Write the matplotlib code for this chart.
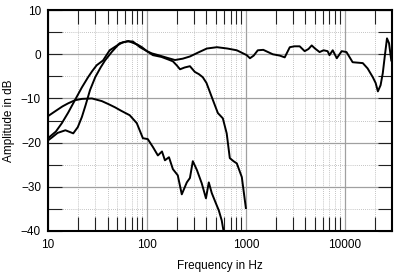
import numpy as np
import matplotlib
matplotlib.use("Agg")
import matplotlib.pyplot as plt
from matplotlib.ticker import FixedLocator, NullFormatter

plt.rcParams['font.family'] = ['Liberation Sans', 'DejaVu Sans']

# full system response
full_f = [10, 12, 13.8, 16, 18.7, 22, 25.4, 28, 31, 36, 42, 50, 57, 65, 70, 80, 89,
          100, 112, 130, 160, 192, 230, 272, 330, 403, 510, 650, 810, 1020, 1100,
          1200, 1320, 1500, 1870, 2200, 2470, 2780, 3100, 3500, 3930, 4300, 4630,
          5000, 5560, 6100, 6700, 7000, 7550, 8300, 9300, 10400, 12000, 13500,
          15200, 17000, 19200, 20500, 21600, 23000, 24200, 25500, 26700, 28000, 29500]
full_db = [-19, -17.5, -15.6, -13.2, -10.4, -7.5, -5.2, -3.8, -2.5, -1.4, 0.9, 2.0,
           2.7, 3.0, 2.7, 2.2, 1.6, 0.7, 0.2, -0.2, -0.8, -1.3, -1.0, -0.5, 0.4, 1.3,
           1.6, 1.3, 0.9, -0.2, -0.9, -0.3, 0.9, 1.0, 0.0, -0.3, -0.7, 1.6, 1.8, 1.8,
           0.7, 1.2, 2.0, 1.3, 0.5, 0.9, 0.7, -0.2, 0.9, -0.9, 0.7, 0.5, -1.8, -1.9,
           -2.0, -3.2, -5.2, -6.5, -8.4, -7.0, -4.3, 0.0, 3.6, 2.5, -1.4]

# woofer response
woof_f = [10, 11, 12.5, 15, 18, 20, 22, 24, 26.6, 30, 34, 37.7, 44, 53, 63, 72, 85,
          100, 115, 140, 165, 183, 200, 216, 240, 272, 305, 335, 367, 400, 465, 521,
          585, 640, 688, 750, 810, 910, 1000]
woof_db = [-19.5, -18.8, -17.8, -17.2, -17.9, -16.5, -14.2, -11.5, -8.1, -5.2, -3.0,
           -1.4, 0.5, 2.5, 2.9, 2.9, 1.6, 0.7, -0.2, -0.6, -1.2, -1.6, -2.5, -3.4,
           -3.0, -2.7, -4.0, -4.5, -5.2, -6.5, -10.4, -13.3, -14.5, -17.9, -23.5,
           -24.2, -24.7, -27.8, -34.8]

# port response
port_f = [10, 12, 14, 16, 18.75, 22, 27.8, 35, 41, 47.5, 55, 67, 79, 91, 102, 115,
          129, 142, 152, 167, 183, 205, 225, 253, 272, 291, 320, 358, 395, 422, 452,
          497, 532, 570, 600]
port_db = [-14, -12.8, -11.8, -11.1, -10.4, -10.1, -10, -10.6, -11.3, -12, -12.8,
           -13.8, -15.6, -19, -19.2, -21, -22.9, -22, -24, -23.3, -26, -27.4, -31.7,
           -29, -28, -24.2, -26.2, -29.2, -32.6, -29, -31.4, -33.7, -35.3, -37.6, -40.5]

x_labels = ["10", "100", "1000", "10000"]
y_ticks = [-40, -30, -20, -10, 0, 10]

fig = plt.figure(figsize=(4, 2.8), dpi=100)
ax = fig.add_axes([0.12, 0.175, 0.86, 0.789])

for f, d in [(full_f, full_db), (woof_f, woof_db), (port_f, port_db)]:
    ax.plot(f, d, color='black', lw=1.4, solid_joinstyle='round', zorder=3)

ax.set_xscale('log')
ax.set_xlim(10, 30000)
ax.set_ylim(-40, 10)

ax.xaxis.set_major_locator(FixedLocator([10, 100, 1000, 10000]))
ax.set_xticklabels(x_labels)
minor_x = [m * 10 ** e for e in range(1, 5) for m in range(2, 10) if m * 10 ** e < 30000]
ax.xaxis.set_minor_locator(FixedLocator(minor_x))
ax.xaxis.set_minor_formatter(NullFormatter())

ax.set_yticks(y_ticks)
ax.yaxis.set_minor_locator(FixedLocator([-35, -25, -15, -5, 5]))

ax.grid(which='major', color='#a0a0a0', lw=0.9, ls='-', zorder=1)
ax.grid(which='minor', color='#b0b0b0', lw=0.6, ls=(0, (1, 1.5)), zorder=1)

ax.tick_params(axis='x', which='major', length=0, pad=6, labelsize=8.5)
ax.tick_params(axis='x', which='minor', direction='in', length=10, width=0.8,
               color='#222222', top=True, bottom=True)
ax.tick_params(axis='y', which='both', direction='in', length=10, width=0.8,
               color='#222222', left=True, right=True, labelsize=8.5, pad=5)

for s in ax.spines.values():
    s.set_linewidth(1.5)

ax.set_xlabel("Frequency in Hz", fontsize=8.5, labelpad=6)
ax.set_ylabel("Amplitude in dB", fontsize=8.5, labelpad=4)

fig.savefig("out.png", dpi=100)
